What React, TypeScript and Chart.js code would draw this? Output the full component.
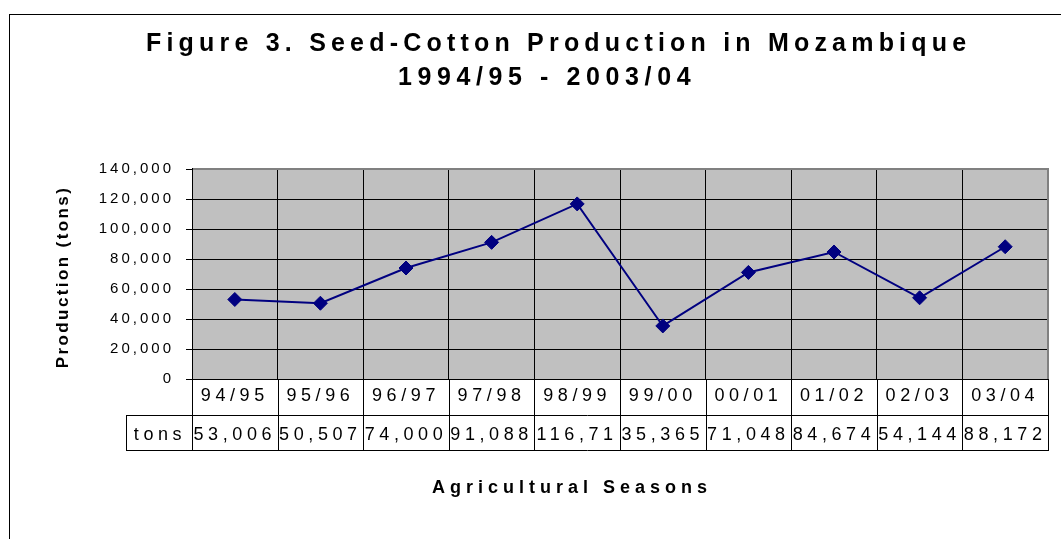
import React, { useEffect, useRef } from 'react';
import { Chart, registerables } from 'chart.js';

Chart.register(...registerables);

// ---- data ----
const seasons = ['94/95', '95/96', '96/97', '97/98', '98/99', '99/00', '00/01', '01/02', '02/03', '03/04'];
const production = [53006, 50507, 74000, 91088, 116714, 35365, 71048, 84674, 54144, 88172];
const yTicks = [0, 20000, 40000, 60000, 80000, 100000, 120000, 140000];
const titleLines = ['Figure 3. Seed-Cotton Production in Mozambique', '1994/95 - 2003/04'];
const yAxisTitle = 'Production (tons)';
const xAxisTitle = 'Agricultural Seasons';
const seriesName = 'tons';

const FONT = '"Liberation Sans", Arial, Helvetica, sans-serif';
const fmt = (v: number) => v.toLocaleString('en-US');

const decor = {
  id: 'decor',
  beforeDraw(chart: any) {
    const { ctx, chartArea: a } = chart;
    ctx.save();
    ctx.fillStyle = '#ffffff';
    ctx.fillRect(0, 0, chart.width, chart.height);
    ctx.fillStyle = '#C0C0C0';
    ctx.fillRect(a.left, a.top, a.right - a.left, a.bottom - a.top);
    ctx.restore();
  },
  beforeDatasetsDraw(chart: any) {
    const { ctx, chartArea: a } = chart;
    ctx.save();
    ctx.strokeStyle = '#808080';
    ctx.lineWidth = 2;
    ctx.beginPath();
    ctx.moveTo(a.left, a.top);
    ctx.lineTo(a.right, a.top);
    ctx.lineTo(a.right, a.bottom);
    ctx.stroke();
    ctx.strokeStyle = '#000';
    ctx.lineWidth = 1;
    ctx.beginPath();
    ctx.moveTo(Math.round(a.left) + 0.5, a.top - 1);
    ctx.lineTo(Math.round(a.left) + 0.5, a.bottom);
    ctx.stroke();
    ctx.restore();
  },
  afterDraw(chart: any) {
    const { ctx, chartArea: a } = chart;
    const xs = chart.scales.x;
    const ys = chart.scales.y;
    ctx.save();

    // outer chart border
    ctx.strokeStyle = '#000';
    ctx.lineWidth = 1;
    ctx.strokeRect(9.5, 14.5, 3000, 3000);

    // title
    ctx.fillStyle = '#000';
    ctx.textBaseline = 'alphabetic';
    ctx.textAlign = 'left';
    ctx.font = `bold 25px ${FONT}`;
    (ctx as any).letterSpacing = '5.2px';
    ctx.fillText(titleLines[0], 146, 51);
    (ctx as any).letterSpacing = '5.6px';
    ctx.fillText(titleLines[1], 398, 85);

    // x axis title
    ctx.font = `bold 18px ${FONT}`;
    (ctx as any).letterSpacing = '5px';
    ctx.fillText(xAxisTitle, 432, 493);

    // y axis title
    ctx.save();
    ctx.translate(68, 277);
    ctx.rotate(-Math.PI / 2);
    ctx.font = `bold 17px ${FONT}`;
    (ctx as any).letterSpacing = '2.4px';
    ctx.textAlign = 'center';
    ctx.fillText(yAxisTitle, 0, 0);
    ctx.restore();

    // y tick labels
    ctx.font = `15px ${FONT}`;
    (ctx as any).letterSpacing = '3px';
    ctx.textAlign = 'right';
    ctx.textBaseline = 'middle';
    yTicks.forEach((v) => {
      ctx.fillText(fmt(v), 174, ys.getPixelForValue(v));
    });

    // data table
    const n = seasons.length;
    const half = (xs.getPixelForValue(1) - xs.getPixelForValue(0)) / 2;
    const bounds: number[] = [];
    for (let i = 0; i < n; i++) bounds.push(xs.getPixelForValue(i) - half);
    bounds.push(xs.getPixelForValue(n - 1) + half);
    const r0 = a.bottom;
    const r1 = r0 + 36;
    const r2 = r0 + 71;
    const tonsLeft = a.left - 66;
    const px = (v: number) => Math.round(v) + 0.5;

    ctx.strokeStyle = '#000';
    ctx.lineWidth = 1;
    ctx.beginPath();
    bounds.forEach((b) => {
      ctx.moveTo(px(b), r0);
      ctx.lineTo(px(b), r2);
    });
    ctx.moveTo(px(tonsLeft), r1);
    ctx.lineTo(px(tonsLeft), r2);
    ctx.moveTo(tonsLeft, px(r1));
    ctx.lineTo(bounds[n] + 1, px(r1));
    ctx.moveTo(tonsLeft, px(r2));
    ctx.lineTo(bounds[n] + 1, px(r2));
    ctx.moveTo(a.left, px(r0));
    ctx.lineTo(bounds[n] + 1, px(r0));
    ctx.stroke();

    ctx.font = `18px ${FONT}`;
    (ctx as any).letterSpacing = '4.6px';
    ctx.textBaseline = 'alphabetic';
    ctx.textAlign = 'center';
    ctx.fillText(seriesName, (tonsLeft + a.left) / 2 + 1, r0 + 60.5);
    for (let i = 0; i < n; i++) {
      const l = bounds[i];
      const r = bounds[i + 1];
      const c = (l + r) / 2;
      ctx.textAlign = 'center';
      ctx.fillText(seasons[i], c, r0 + 22);
      const txt = fmt(production[i]);
      const w = ctx.measureText(txt).width;
      ctx.save();
      ctx.beginPath();
      ctx.rect(l + 1, r1, r - l - 4, r2 - r1);
      ctx.clip();
      if (w > r - l) {
        ctx.textAlign = 'left';
        ctx.fillText(txt, l + 2, r0 + 60.5);
      } else {
        ctx.fillText(txt, c, r0 + 60.5);
      }
      ctx.restore();
    }
    ctx.restore();
  },
};

export default function App() {
  const ref = useRef<HTMLCanvasElement | null>(null);
  useEffect(() => {
    if (!ref.current) return;
    const chart = new Chart(ref.current, {
      type: 'line',
      data: {
        labels: seasons,
        datasets: [
          {
            label: seriesName,
            data: production,
            borderColor: '#000080',
            backgroundColor: '#000080',
            borderWidth: 2,
            pointStyle: 'rectRot',
            pointRadius: 7,
            pointBorderWidth: 1,
            pointBackgroundColor: '#000080',
            pointBorderColor: '#000080',
            tension: 0,
          },
        ],
      },
      options: {
        animation: false,
        responsive: false,
        devicePixelRatio: 1,
        layout: { padding: { left: 162, top: 169, right: 13, bottom: 150 } },
        plugins: { legend: { display: false }, tooltip: { enabled: false }, title: { display: false } },
        scales: {
          x: {
            offset: true,
            grid: { offset: true, color: '#000', lineWidth: 1, drawTicks: false },
            border: { display: true, color: '#000', width: 1 },
            ticks: { display: false },
            afterFit: (s: any) => {
              s.height = 10;
            },
          },
          y: {
            min: 0,
            max: 140000,
            ticks: { display: false, stepSize: 20000 },
            grid: { color: '#000', lineWidth: 1, drawTicks: true, tickLength: 6 },
            border: { display: true, color: '#000', width: 1 },
            afterFit: (s: any) => {
              s.width = 30;
            },
          },
        },
      },
      plugins: [decor],
    } as any);
    return () => chart.destroy();
  }, []);
  return (
    <div style={{ position: 'fixed', left: 0, top: 0, width: 1061, height: 539, background: '#fff' }}>
      <canvas ref={ref} width={1061} height={539} style={{ display: 'block', width: 1061, height: 539 }} />
    </div>
  );
}
